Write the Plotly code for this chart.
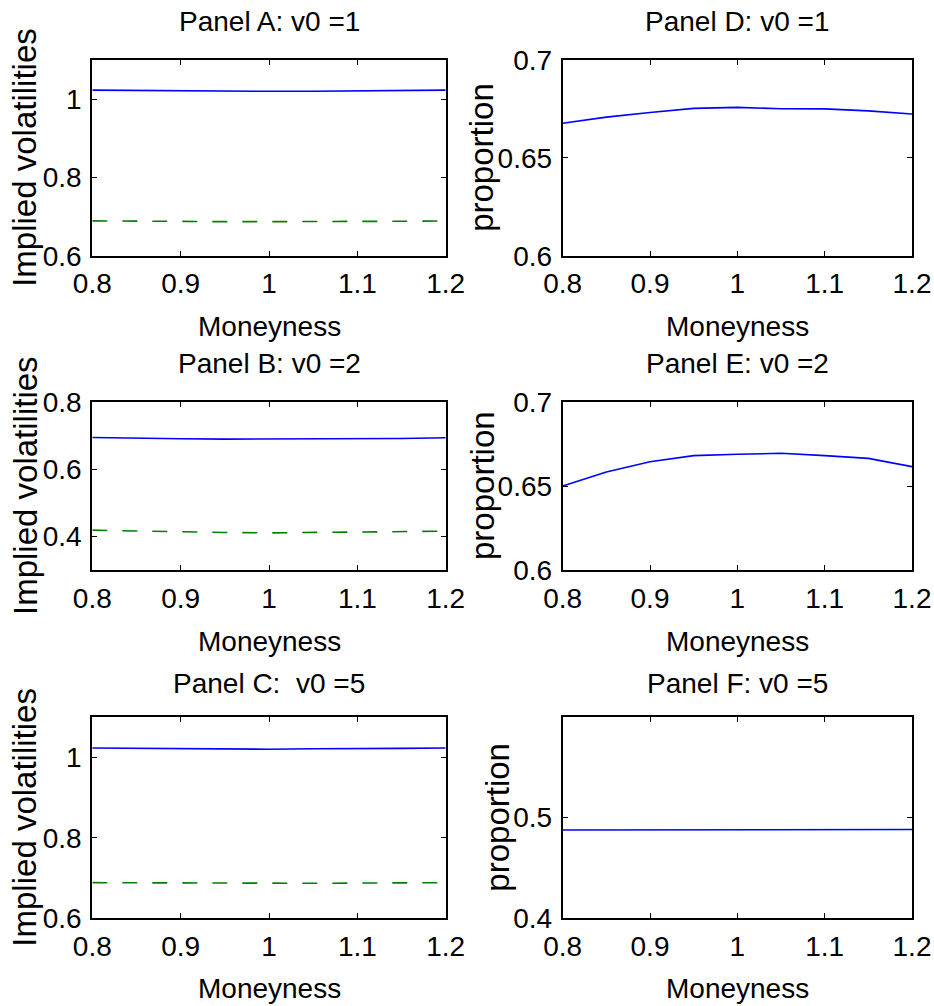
import plotly.graph_objects as go

W, H = 934, 1006
FONT = "Liberation Sans, Arial, Helvetica, sans-serif"
FS = 28      # horizontal text
FS_Y = 33    # rotated y-axis titles

moneyness = [0.8, 0.85, 0.9, 0.95, 1.0, 1.05, 1.1, 1.15, 1.2]
xtick_vals = [0.8, 0.9, 1.0, 1.1, 1.2]
xtick_text = ["0.8", "0.9", "1", "1.1", "1.2"]

a_solid = [1.023, 1.022, 1.021, 1.020, 1.020, 1.020, 1.021, 1.022, 1.023]
a_dash = [0.689, 0.688, 0.687, 0.687, 0.687, 0.687, 0.687, 0.688, 0.689]
b_solid = [0.694, 0.691, 0.690, 0.689, 0.689, 0.689, 0.690, 0.691, 0.693]
b_dash = [0.419, 0.416, 0.413, 0.412, 0.411, 0.412, 0.413, 0.414, 0.416]
c_solid = [1.023, 1.022, 1.021, 1.021, 1.020, 1.021, 1.021, 1.022, 1.023]
c_dash = [0.6885, 0.688, 0.6875, 0.687, 0.687, 0.687, 0.6875, 0.688, 0.6885]
d_prop = [0.6677, 0.6708, 0.6732, 0.6753, 0.6758, 0.6751, 0.6750, 0.6740, 0.6724]
e_prop = [0.6500, 0.6583, 0.6644, 0.6680, 0.6688, 0.6694, 0.6680, 0.6664, 0.6615]
f_prop = [0.4877, 0.4878, 0.4877, 0.4878, 0.4878, 0.4879, 0.4880, 0.4880, 0.4882]

titles = ["Panel A: v0 =1", "Panel B: v0 =2", "Panel C:  v0 =5",
          "Panel D: v0 =1", "Panel E: v0 =2", "Panel F: v0 =5"]

# pixel boxes: (left, right, top, bottom)
boxes = [
    (92.3, 445.7, 60.0, 255.7),
    (92.3, 445.7, 401.7, 570.3),
    (92.3, 445.7, 717.0, 918.3),
    (562.7, 912.0, 60.0, 255.7),
    (562.7, 912.0, 401.7, 570.3),
    (562.7, 912.0, 717.0, 918.3),
]
yranges = [[0.6, 1.1], [0.3, 0.8], [0.6, 1.1], [0.6, 0.7], [0.6, 0.7], [0.4, 0.6]]
yticks = [[0.6, 0.8, 1.0], [0.4, 0.6, 0.8], [0.6, 0.8, 1.0],
          [0.6, 0.65, 0.7], [0.6, 0.65, 0.7], [0.4, 0.5]]
ytexts = [["0.6", "0.8", "1"], ["0.4", "0.6", "0.8"], ["0.6", "0.8", "1"],
          ["0.6", "0.65", "0.7"], ["0.6", "0.65", "0.7"], ["0.4", "0.5"]]
ylabels = ["Implied volatilities"] * 3 + ["proportion"] * 3
ylabel_x = [25, 25, 25, 482, 482, 498]
title_y = [22, 363, 683, 22, 363, 683]
xlabel_y = [326, 641, 988, 326, 641, 988]

series = [
    [a_solid, a_dash], [b_solid, b_dash], [c_solid, c_dash],
    [d_prop], [e_prop], [f_prop],
]


def px(x):
    return x / W


def py(y):
    return 1 - y / H


fig = go.Figure()
annotations = []
for i in range(6):
    l, r, t, b = boxes[i]
    xa = "x" if i == 0 else f"x{i+1}"
    ya = "y" if i == 0 else f"y{i+1}"
    for j, vals in enumerate(series[i]):
        fig.add_trace(go.Scatter(
            x=moneyness, y=vals, mode="lines", xaxis=xa, yaxis=ya,
            line=dict(color="#0000ff" if j == 0 else "#008000", width=1.6,
                      dash="solid" if j == 0 else "15px,15px"),
            showlegend=False, hoverinfo="skip"))
    axcommon = dict(showline=True, linecolor="black", linewidth=2, mirror="allticks",
                    ticks="inside", ticklen=5, tickwidth=1, tickcolor="black",
                    showgrid=False, zeroline=False, automargin=False,
                    tickfont=dict(family=FONT, size=FS, color="black"))
    xkey = "xaxis" if i == 0 else f"xaxis{i+1}"
    ykey = "yaxis" if i == 0 else f"yaxis{i+1}"
    fig.layout[xkey] = dict(domain=[px(l), px(r)], anchor=ya, range=[0.8, 1.2],
                            tickvals=xtick_vals, ticktext=xtick_text,
                            ticklabelstandoff=2, **axcommon)
    fig.layout[ykey] = dict(domain=[py(b), py(t)], anchor=xa, range=yranges[i],
                            tickvals=yticks[i], ticktext=ytexts[i],
                            ticklabelstandoff=3, **axcommon)
    cx = (l + r) / 2
    cy = (t + b) / 2
    annotations.append(dict(text=titles[i], x=px(cx), y=py(title_y[i]), xref="paper", yref="paper",
                            xanchor="center", yanchor="middle", showarrow=False,
                            font=dict(family=FONT, size=FS, color="black")))
    annotations.append(dict(text="Moneyness", x=px(cx), y=py(xlabel_y[i]), xref="paper", yref="paper",
                            xanchor="center", yanchor="middle", showarrow=False,
                            font=dict(family=FONT, size=FS, color="black")))
    annotations.append(dict(text=ylabels[i], x=px(ylabel_x[i]), y=py(cy), xref="paper", yref="paper",
                            xanchor="center", yanchor="middle", showarrow=False, textangle=-90,
                            font=dict(family=FONT, size=FS_Y, color="black")))

fig.update_layout(width=W, height=H, autosize=False,
                  margin=dict(l=0, r=0, t=0, b=0, pad=0, autoexpand=False),
                  paper_bgcolor="white", plot_bgcolor="white", annotations=annotations)
fig.write_html("out.html",
               post_script="document.body.style.margin='0';document.body.style.overflow='hidden';")
